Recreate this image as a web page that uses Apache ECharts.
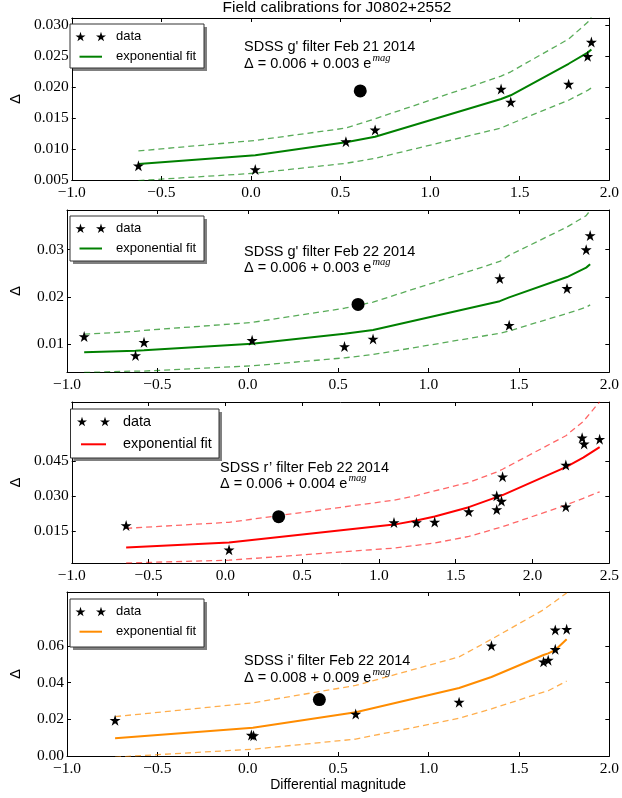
<!DOCTYPE html>
<html><head><meta charset="utf-8">
<script src="https://cdn.jsdelivr.net/npm/echarts@6/dist/echarts.min.js"></script>
<style>html,body{margin:0;padding:0;background:#fff}#c{width:622px;height:798px}</style>
</head><body><div id="c"></div>
<script>
// ---------- DATA ----------
const chartTitle = 'Field calibrations for J0802+2552';
const xAxisName = 'Differential magnitude';
const yAxisName = 'Δ';
const filterLabels = ["SDSS g' filter Feb 21 2014", "SDSS g' filter Feb 22 2014", "SDSS r’ filter Feb 22 2014", "SDSS i' filter Feb 22 2014"];
const fitConst = ['0.006', '0.006', '0.006', '0.008'];
const fitCoef = ['0.003', '0.003', '0.004', '0.009'];

// Panel 1: g' Feb 21
const g21Mag = [-0.628, 0.024, 0.530, 0.693, 1.396, 1.450, 1.773, 1.879, 1.900];
const g21Delta = [0.0073, 0.0067, 0.0112, 0.0131, 0.0197, 0.0176, 0.0205, 0.0250, 0.0273];
const g21FitMag = [-0.628, 0.024, 0.530, 0.693, 1.396, 1.450, 1.773, 1.879, 1.900];
const g21Fit = [0.0076, 0.0090, 0.0111, 0.0120, 0.0181, 0.0187, 0.0238, 0.0256, 0.0261];
const g21Upper = [0.0097, 0.0114, 0.0134, 0.0149, 0.0218, 0.0225, 0.0278, 0.0305, 0.0313];
const g21Lower = [0.0049, 0.0061, 0.0077, 0.0085, 0.0134, 0.0141, 0.0179, 0.0195, 0.0199];

// Panel 2: g' Feb 22
const g22Mag = [-0.905, -0.621, -0.574, 0.024, 0.535, 0.693, 1.394, 1.446, 1.766, 1.872, 1.894];
const g22Delta = [0.0116, 0.0076, 0.0104, 0.0108, 0.0095, 0.0111, 0.0239, 0.0140, 0.0218, 0.0300, 0.0330];
const g22FitMag = [-0.905, -0.621, -0.574, 0.024, 0.535, 0.693, 1.394, 1.446, 1.766, 1.872, 1.894];
const g22Fit = [0.0083, 0.0086, 0.0087, 0.0101, 0.0122, 0.0130, 0.0191, 0.0199, 0.0242, 0.0262, 0.0269];
const g22Upper = [0.0121, 0.0127, 0.0129, 0.0146, 0.0176, 0.0189, 0.0275, 0.0288, 0.0348, 0.0372, 0.0383];
const g22Lower = [0.0040, 0.0043, 0.0043, 0.0054, 0.0071, 0.0078, 0.0123, 0.0128, 0.0165, 0.0178, 0.0183];

// Panel 3: r' Feb 22
const r22Mag = [-0.646, 0.024, 1.098, 1.244, 1.363, 1.585, 1.767, 1.767, 1.798, 1.805, 2.217, 2.217, 2.323, 2.336, 2.437];
const r22Delta = [0.0173, 0.0069, 0.0186, 0.0186, 0.0188, 0.0233, 0.0301, 0.0242, 0.0278, 0.0383, 0.0433, 0.0254, 0.0550, 0.0524, 0.0544];
const r22FitMag = [-0.646, 0.024, 1.098, 1.244, 1.363, 1.585, 1.767, 1.805, 2.217, 2.330, 2.437];
const r22Fit = [0.0079, 0.0100, 0.0177, 0.0195, 0.0212, 0.0252, 0.0295, 0.0304, 0.0424, 0.0465, 0.0510];
const r22Upper = [0.0161, 0.0187, 0.0282, 0.0302, 0.0322, 0.0358, 0.0403, 0.0415, 0.0559, 0.0620, 0.0705];
const r22Lower = [0.0012, 0.0024, 0.0076, 0.0088, 0.0098, 0.0126, 0.0161, 0.0168, 0.0261, 0.0290, 0.0318];

// Panel 4: i' Feb 22
const i22Mag = [-0.734, 0.020, 0.032, 0.597, 1.169, 1.348, 1.636, 1.662, 1.701, 1.701, 1.764];
const i22Delta = [0.0195, 0.0114, 0.0111, 0.0229, 0.0294, 0.0602, 0.0514, 0.0523, 0.0688, 0.0582, 0.0692];
const i22FitMag = [-0.734, 0.028, 0.597, 1.169, 1.348, 1.636, 1.662, 1.701, 1.764];
const i22Fit = [0.0097, 0.0154, 0.0239, 0.0371, 0.0431, 0.0551, 0.0560, 0.0578, 0.0637];
const i22Upper = [0.0215, 0.0290, 0.0385, 0.0541, 0.0637, 0.0798, 0.0817, 0.0844, 0.0890];
const i22Lower = [-0.0006, 0.0037, 0.0092, 0.0206, 0.0257, 0.0349, 0.0356, 0.0376, 0.0409];

// Target (large dot) per panel
const targetMag = [0.610, 0.610, 0.347, 0.396];
const targetDelta = [0.0194, 0.0184, 0.0211, 0.0308];

// Axis ticks
const xTicks = [-1.0, -0.5, 0.0, 0.5, 1.0, 1.5, 2.0];
const xTicksR = [-1.0, -0.5, 0.0, 0.5, 1.0, 1.5, 2.0, 2.5];
const yTicks1 = [0.005, 0.010, 0.015, 0.020, 0.025, 0.030];
const yTicks2 = [0.01, 0.02, 0.03];
const yTicks3 = [0.015, 0.030, 0.045];
const yTicks4 = [0.00, 0.02, 0.04, 0.06];
const yDecimals = [3, 2, 3, 2];
const xRange = [[-1, 2], [-1, 2], [-1, 2.5], [-1, 2]];
const yRange = [[0.005, 0.0312], [0.0041, 0.0384], [0.0012, 0.0704], [0.0, 0.0895]];

// ---------- BUILD ----------
const panels = [
  {mag: g21Mag, d: g21Delta, fm: g21FitMag, f: g21Fit, up: g21Upper, lo: g21Lower, yt: yTicks1, xt: xTicks},
  {mag: g22Mag, d: g22Delta, fm: g22FitMag, f: g22Fit, up: g22Upper, lo: g22Lower, yt: yTicks2, xt: xTicks},
  {mag: r22Mag, d: r22Delta, fm: r22FitMag, f: r22Fit, up: r22Upper, lo: r22Lower, yt: yTicks3, xt: xTicksR},
  {mag: i22Mag, d: i22Delta, fm: i22FitMag, f: i22Fit, up: i22Upper, lo: i22Lower, yt: yTicks4, xt: xTicks}
];
const fitColor = ['#008000', '#008000', '#ff0000', '#ff8c00'];
const bandColor = ['rgba(0,128,0,0.65)', 'rgba(0,128,0,0.65)', 'rgba(255,0,0,0.6)', 'rgba(255,140,0,0.7)'];
const gridBox = [{top: 18, height: 162}, {top: 210, height: 162}, {top: 402, height: 161}, {top: 592, height: 164}];
const STAR = 'path://M50,0 L61.2,34.5 L97.6,34.5 L68.2,55.9 L79.4,90.5 L50,69.1 L20.6,90.5 L31.8,55.9 L2.4,34.5 L38.8,34.5 Z';
const starUnit = [[50,0],[61.2,34.5],[97.6,34.5],[68.2,55.9],[79.4,90.5],[50,69.1],[20.6,90.5],[31.8,55.9],[2.4,34.5],[38.8,34.5]];
const tickFont = 'Liberation Serif';
const sansFont = 'Liberation Sans';

const zip = (a, b) => a.map((v, k) => [v, b[k]]);
const fmtX = v => (v < 0 ? '\u2212' : '') + Math.abs(v).toFixed(1);

const grid = [], xAxis = [], yAxis = [], series = [];
panels.forEach((p, i) => {
  grid.push({left: 62, width: 550, top: gridBox[i].top, height: gridBox[i].height, containLabel: false});
  ['bottom', 'top'].forEach(pos => {
    xAxis.push({
      type: 'value', gridIndex: i, position: pos, min: xRange[i][0], max: xRange[i][1],
      axisLine: {show: true, onZero: false, lineStyle: {color: '#000', width: 1}},
      axisTick: {show: true, inside: true, length: 4, customValues: p.xt, lineStyle: {color: '#000', width: 1}},
      axisLabel: {show: pos === 'bottom', customValues: p.xt, margin: 5, fontFamily: tickFont, fontSize: 15.5, color: '#000', formatter: fmtX},
      splitLine: {show: false},
      name: (pos === 'bottom' && i === 3) ? xAxisName : '',
      nameLocation: 'middle', nameGap: 22,
      nameTextStyle: {fontFamily: sansFont, fontSize: 14, color: '#000'}
    });
  });
  ['left', 'right'].forEach(pos => {
    yAxis.push({
      type: 'value', gridIndex: i, position: pos, min: yRange[i][0], max: yRange[i][1],
      axisLine: {show: true, onZero: false, lineStyle: {color: '#000', width: 1}},
      axisTick: {show: true, inside: true, length: 4, customValues: p.yt, lineStyle: {color: '#000', width: 1}},
      axisLabel: {show: pos === 'left', customValues: p.yt, margin: 3, fontFamily: tickFont, fontSize: 15.5, color: '#000',
        formatter: v => v.toFixed(yDecimals[i])},
      splitLine: {show: false},
      name: pos === 'left' ? yAxisName : '',
      nameLocation: 'middle', nameGap: 44,
      nameTextStyle: {fontFamily: sansFont, fontSize: 15, color: '#000'}
    });
  });
  const xi = i * 2, yi = i * 2;
  const common = {xAxisIndex: xi, yAxisIndex: yi, silent: true, animation: false};
  series.push(Object.assign({type: 'line', data: zip(p.fm, p.up), symbol: 'none', clip: true,
    lineStyle: {color: bandColor[i], width: 1.3, type: [6, 4]}, z: 2}, common));
  series.push(Object.assign({type: 'line', data: zip(p.fm, p.lo), symbol: 'none', clip: true,
    lineStyle: {color: bandColor[i], width: 1.3, type: [6, 4]}, z: 2}, common));
  series.push(Object.assign({type: 'line', data: zip(p.fm, p.f), symbol: 'none', clip: true,
    lineStyle: {color: fitColor[i], width: 2}, z: 3}, common));
  series.push(Object.assign({type: 'scatter', data: zip(p.mag, p.d), symbol: STAR, symbolSize: 11,
    itemStyle: {color: '#000', opacity: 1}, z: 4}, common));
  series.push(Object.assign({type: 'scatter', data: [[targetMag[i], targetDelta[i]]], symbol: 'circle', symbolSize: 13,
    itemStyle: {color: '#000', opacity: 1}, z: 4}, common));
});

// ---------- GRAPHICS (title, legends, annotations) ----------
const graphic = [];
graphic.push({type: 'text', x: 337, y: 8, style: {text: chartTitle, fontFamily: sansFont, fontSize: 15.5, fill: '#000', align: 'center', verticalAlign: 'middle'}});

const legendBox = [
  {x: 70, y: 24, w: 134, h: 44, fs: 13, r1: 12.7, r2: 32.7, m1: 10.5, m2: 31, tx: 46},
  {x: 70, y: 216, w: 134, h: 45, fs: 13, r1: 12.5, r2: 32.5, m1: 10.5, m2: 31, tx: 46},
  {x: 70.5, y: 409, w: 148.5, h: 49, fs: 14.4, r1: 12.7, r2: 35.3, m1: 11.5, m2: 34.5, tx: 52.5},
  {x: 70, y: 599, w: 134, h: 48, fs: 13, r1: 12.7, r2: 32.7, m1: 10.5, m2: 31, tx: 46}
];
const annot = [{x: 244, y1: 47, y2: 62}, {x: 244, y1: 252, y2: 266}, {x: 220, y1: 468, y2: 482}, {x: 244, y1: 661, y2: 676}];

function starPoints(cx, cy, s) {
  return starUnit.map(q => [cx + (q[0] - 50) / 100 * s, cy + (q[1] - 47) / 100 * s]);
}

legendBox.forEach((b, i) => {
  graphic.push({type: 'rect', shape: {x: b.x + 3, y: b.y + 3, width: b.w, height: b.h}, style: {fill: '#808080'}, z: 10});
  graphic.push({type: 'rect', shape: {x: b.x, y: b.y, width: b.w, height: b.h}, style: {fill: '#fff', stroke: '#333', lineWidth: 1}, z: 11});
  [b.m1, b.m2].forEach(mx => {
    graphic.push({type: 'polygon', shape: {points: starPoints(b.x + mx, b.y + b.r1, 10.5)}, style: {fill: '#000'}, z: 12});
  });
  graphic.push({type: 'text', x: b.x + b.tx, y: b.y + b.r1, style: {text: 'data', fontFamily: sansFont, fontSize: b.fs, fill: '#000', align: 'left', verticalAlign: 'middle'}, z: 12});
  graphic.push({type: 'line', shape: {x1: b.x + b.m1 - 1, y1: b.y + b.r2, x2: b.x + b.m2 + 1, y2: b.y + b.r2}, style: {stroke: fitColor[i], lineWidth: 2}, z: 12});
  graphic.push({type: 'text', x: b.x + b.tx, y: b.y + b.r2, style: {text: 'exponential fit', fontFamily: sansFont, fontSize: b.fs, fill: '#000', align: 'left', verticalAlign: 'middle'}, z: 12});

  const a = annot[i];
  graphic.push({type: 'text', x: a.x, y: a.y1, style: {text: filterLabels[i], fontFamily: sansFont, fontSize: 14.5, fill: '#000', align: 'left', verticalAlign: 'middle'}, z: 12});
  graphic.push({type: 'text', x: a.x, y: a.y2, style: {
    text: '{n|Δ = ' + fitConst[i] + ' + ' + fitCoef[i] + ' e}{sup|mag}',
    align: 'left', verticalAlign: 'middle',
    rich: {
      n: {fontFamily: sansFont, fontSize: 14.5, fill: '#000', lineHeight: 18, verticalAlign: 'bottom'},
      sup: {fontFamily: tickFont, fontStyle: 'italic', fontSize: 10.5, fill: '#000', lineHeight: 18, verticalAlign: 'top', padding: [0, 0, 0, 1]}
    }}, z: 12});
});

const chart = echarts.init(document.getElementById('c'), null, {renderer: 'canvas', width: 622, height: 798});
chart.setOption({backgroundColor: '#fff', animation: false, grid, xAxis, yAxis, series, graphic});
</script>
</body></html>
